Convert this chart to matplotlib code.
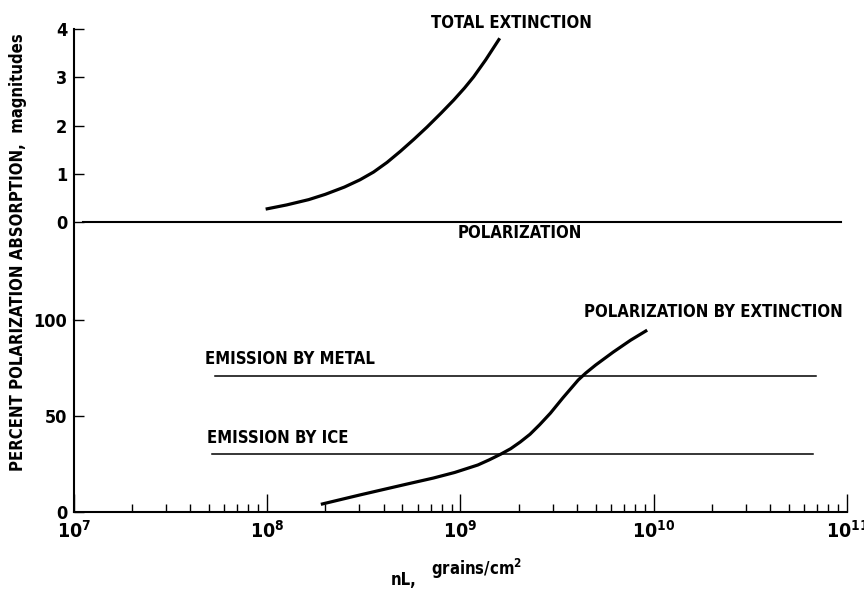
import matplotlib
matplotlib.use("Agg")
import matplotlib.pyplot as plt
from matplotlib.ticker import FixedLocator, LogLocator, NullFormatter, NullLocator
import numpy as np

plt.rcParams['font.family'] = ['DejaVu Sans']
plt.rcParams['font.weight'] = 'bold'
plt.rcParams['font.stretch'] = 'condensed'
plt.rcParams['mathtext.fontset'] = 'custom'
plt.rcParams['mathtext.rm'] = 'DejaVu Sans:bold:stretch=condensed'
plt.rcParams['mathtext.bf'] = 'DejaVu Sans:bold:stretch=condensed'

# data
# top panel: magnitudes
ext_x = [1.00e8, 1.26e8, 1.64e8, 2.00e8, 2.51e8, 3.02e8, 3.55e8, 4.17e8, 4.89e8,
         5.75e8, 6.71e8, 7.94e8, 9.23e8, 1.05e9, 1.17e9, 1.35e9, 1.58e9]
ext_mag = [0.28, 0.36, 0.47, 0.58, 0.73, 0.88, 1.04, 1.24, 1.47,
           1.72, 1.97, 2.26, 2.53, 2.78, 3.01, 3.36, 3.78]
pol_x = [1.11e7, 9.3e10]
pol_mag = [0.0, 0.0]

# bottom panel: percent
pbe_x = [1.93e8, 2.29e8, 3.02e8, 3.98e8, 5.25e8, 7.24e8, 9.33e8, 1.23e9, 1.41e9, 1.62e9, 1.82e9,
         2.04e9, 2.29e9, 2.57e9, 2.92e9, 3.39e9, 4.07e9, 4.45e9, 5.01e9, 6.17e9, 7.59e9, 9.10e9]
pbe_pct = [4.2, 6.0, 8.9, 11.7, 14.5, 17.7, 20.6, 24.5, 27.2, 30.2, 33.0,
           36.5, 40.5, 45.5, 51.5, 59.5, 68.8, 72.4, 76.6, 83.3, 89.5, 94.3]
metal_x = [5.4e7, 6.9e10]
metal_pct = [71, 71]
ice_x = [5.2e7, 6.7e10]
ice_pct = [30, 30]

mag_ticks = [0, 1, 2, 3, 4]
pct_ticks = [0, 50, 100]
x_decades = [1e7, 1e8, 1e9, 1e10, 1e11]

fig = plt.figure(figsize=(8.64, 5.96), dpi=100)
ax_top = fig.add_axes([0.0856, 0.4631, 0.8947, 0.4883])
ax_bot = fig.add_axes([0.0856, 0.1409, 0.8947, 0.3221])

for ax in (ax_top, ax_bot):
    ax.set_xscale('log')
    ax.set_xlim(1e7, 1e11)
    ax.spines['top'].set_visible(False)
    ax.spines['right'].set_visible(False)
    ax.spines['left'].set_linewidth(1.5)
    ax.spines['bottom'].set_linewidth(1.5)
    ax.patch.set_alpha(0)
    ax.tick_params(axis='y', direction='in', length=7, width=1.0, labelsize=13, pad=5)

# top panel
ax_top.spines['bottom'].set_visible(False)
ax_top.xaxis.set_major_locator(NullLocator())
ax_top.xaxis.set_minor_locator(NullLocator())
ax_top.set_ylim(-2.02, 4)
ax_top.yaxis.set_major_locator(FixedLocator(mag_ticks))
ax_top.plot(ext_x, ext_mag, color='black', lw=2.3, solid_joinstyle='round')
ax_top.plot(pol_x, pol_mag, color='black', lw=1.5)
ax_top.text(7.0e8, 4.12, 'TOTAL EXTINCTION', fontsize=12, va='center', ha='left')
ax_top.text(9.64e8, -0.23, 'POLARIZATION', fontsize=12, va='center', ha='left')

# bottom panel
ax_bot.set_ylim(0, 100)
ax_bot.yaxis.set_major_locator(FixedLocator(pct_ticks))
ax_bot.xaxis.set_major_locator(FixedLocator(x_decades))
ax_bot.xaxis.set_major_formatter(
    plt.FuncFormatter(lambda v, p: r'$\mathbf{10^{%d}}$' % round(np.log10(v))))
ax_bot.xaxis.set_minor_locator(LogLocator(base=10, subs=np.arange(2, 10), numticks=20))
ax_bot.xaxis.set_minor_formatter(NullFormatter())
ax_bot.tick_params(axis='x', which='major', direction='in', length=13, width=1.0,
                   labelsize=14, pad=6)
ax_bot.tick_params(axis='x', which='minor', direction='in', length=6, width=1.0)
ax_bot.plot(pbe_x, pbe_pct, color='black', lw=2.3, solid_joinstyle='round')
ax_bot.plot(metal_x, metal_pct, color='black', lw=1.1)
ax_bot.plot(ice_x, ice_pct, color='black', lw=1.1)
ax_bot.text(4.78e7, 79.7, 'EMISSION BY METAL', fontsize=12, va='center', ha='left')
ax_bot.text(4.89e7, 38.5, 'EMISSION BY ICE', fontsize=12, va='center', ha='left')
ax_bot.text(4.34e9, 104.2, 'POLARIZATION BY EXTINCTION', fontsize=12, va='center', ha='left')

fig.text(0.021, 0.577, 'PERCENT POLARIZATION ABSORPTION,  magnitudes',
         rotation=90, fontsize=12, ha='center', va='center')
fig.text(0.467, 0.027, 'nL,', fontsize=12, ha='center', va='center')
fig.text(0.552, 0.045, r'grains/cm$^{\mathbf{2}}$', fontsize=12, ha='center', va='center')

fig.savefig('out.png', dpi=100)
